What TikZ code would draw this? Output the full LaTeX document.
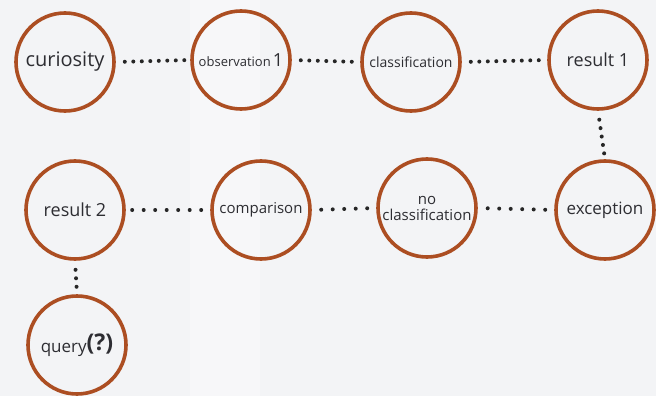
\documentclass[tikz,border=0pt]{standalone}
\usepackage{fontspec}
\setmainfont{Open Sans}
\definecolor{bgc}{RGB}{243,244,246}
\definecolor{ringc}{RGB}{172,78,34}
\definecolor{txtc}{RGB}{45,45,50}
\begin{document}
\begin{tikzpicture}[x=1pt,y=-1pt,
  ring/.style={circle,draw=ringc,line width=3.6pt,minimum size=98pt,inner sep=0pt,text=txtc,align=center},
  dotline/.style={draw=black!85,line width=4pt,line cap=round,dash pattern=on 0pt off 8.5pt,shorten <=9pt,shorten >=5pt},
  dotwide/.style={dotline,dash pattern=on 0pt off 11.5pt}]
\fill[bgc] (0,0) rectangle (656,396);
\fill[white,opacity=0.35] (190,0) rectangle (260,396);
\useasboundingbox (0,0) rectangle (656,396);
\node[ring,font=\fontsize{20}{22}\selectfont] (cur) at (65,62) {curiosity};
\node[ring,font=\fontsize{13}{14}\selectfont] (obs) at (241,60) {observation\,\fontsize{18}{18}\selectfont 1};
\node[ring,font=\fontsize{14}{15}\selectfont] (cls) at (411,62) {classification};
\node[ring,font=\fontsize{18}{19}\selectfont] (ro) at (598,60) {result 1};
\node[ring,font=\fontsize{18}{19}\selectfont] (rt) at (75,210) {result 2};
\node[ring,font=\fontsize{15}{16}\selectfont] (cmp) at (261,210) {comparison};
\node[ring,font=\fontsize{15}{19}\selectfont] (ncl) at (427,208) {no\\[-3pt]classification};
\node[ring,font=\fontsize{17}{18}\selectfont] (exc) at (605,210) {exception};
\node[ring,font=\fontsize{17}{18}\selectfont] (qry) at (77,345) {\raisebox{-2pt}{query}\textbf{\fontsize{23}{23}\selectfont(?)}};
\draw[dotline] (cur.east) -- (obs.west);
\draw[dotline] (obs.east) -- (cls.west);
\draw[dotline] (cls.east) -- (ro.west);
\draw[dotline] (ro.south) -- (exc.north);
\draw[dotwide] (exc.west) -- (ncl.east);
\draw[dotwide] (ncl.west) -- (cmp.east);
\draw[dotwide] (cmp.west) -- (rt.east);
\draw[dotline] (rt.south) -- (qry.north);
\end{tikzpicture}
\end{document}
